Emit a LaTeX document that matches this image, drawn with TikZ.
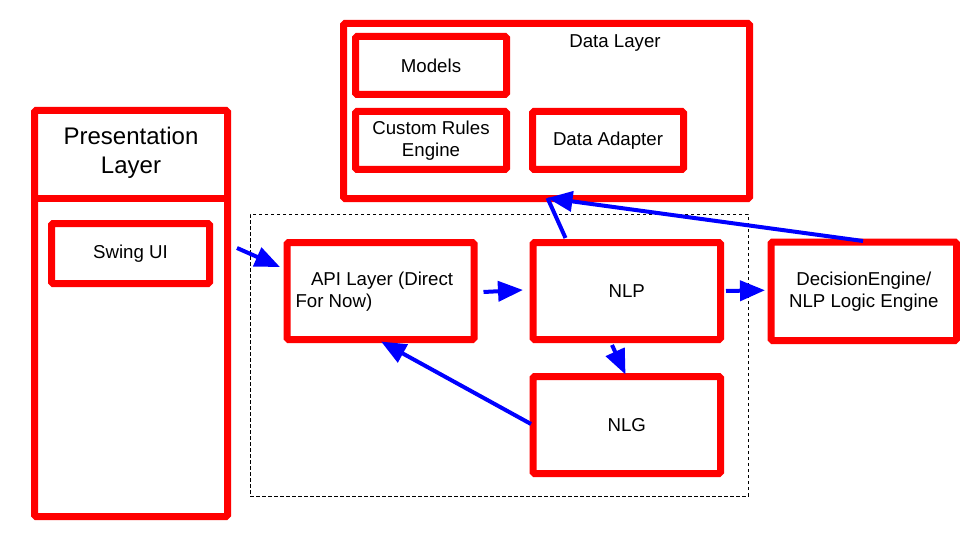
\documentclass[tikz,border=0pt]{standalone}
\usepackage{fontspec}
\setmainfont{Liberation Sans}
\usetikzlibrary{arrows.meta,calc}
\definecolor{rred}{RGB}{255,0,0}
\definecolor{bblue}{RGB}{0,0,255}
\begin{document}
\begin{tikzpicture}[x=1pt,y=-1pt,
 rbox/.style={draw=rred,line width=7pt,rounded corners=1.5pt,outer sep=0pt,inner sep=0pt,align=center,font=\fontsize{18.67}{22}\selectfont},
 txt/.style={inner sep=0pt,outer sep=0pt,align=center,font=\fontsize{18.67}{22}\selectfont},
 bigtxt/.style={inner sep=0pt,outer sep=0pt,align=center,font=\fontsize{24}{29.5}\selectfont},
 conn/.style={draw=bblue,line width=4pt,-{Triangle[length=25pt 0,width=20pt 0]}},
 plainconn/.style={draw=bblue,line width=4pt},
 dashbox/.style={draw=black,line width=0.8pt,dash pattern=on 3.5pt off 2.5pt,outer sep=0pt,inner sep=0pt}]
\useasboundingbox (0,0) rectangle (960,540);
\fill[white] (0,0) rectangle (960,540);

% dashed group
\node[dashbox,minimum width=498pt,minimum height=282pt] (core) at (499,355) {};

% data layer
\node[rbox,minimum width=406pt,minimum height=175pt] (data) at (546.5,111) {};
\node[txt] (datatitle) at (615,43) {Data Layer};
\node[rbox,minimum width=151pt,minimum height=58pt] (models) at (431,65.5) {Models};
\node[rbox,minimum width=151pt,minimum height=58pt] (rules) at (431,140.5) {Custom Rules\\Engine};
\node[rbox,minimum width=151pt,minimum height=58pt] (adapter) at (608,140.5) {Data Adapter};

% presentation layer
\node[rbox,minimum width=193pt,minimum height=406pt] (pres) at (131,313.5) {};
\draw[draw=rred,line width=7pt] ($(pres.north west)+(0,87.5)$) -- ($(pres.north east)+(0,87.5)$);
\node[bigtxt] (prestitle) at (131,153) {Presentation\\Layer};
\node[rbox,minimum width=158pt,minimum height=60pt] (swing) at (130.5,253.5) {Swing UI};

% core
\node[rbox,minimum width=187pt,minimum height=97pt] (api) at (380.5,291) {};
\node[txt,anchor=west,align=left] (apitext) at (295.5,292) {\hspace*{15.5pt}API Layer (Direct\\For Now)};
\node[rbox,minimum width=187.5pt,minimum height=97pt] (nlp) at (626.75,291) {NLP};
\node[rbox,minimum width=187.5pt,minimum height=97pt] (nlg) at (626.75,425) {NLG};
\node[rbox,minimum width=185.5pt,minimum height=98.5pt] (dec) at (863.75,291.25) {DecisionEngine/\\NLP Logic Engine};

% connectors
\draw[conn] ($(swing.east)+(27.5,-5.5)$) -- ($(api.west)+(-7,-24)$);
\draw[conn] ($(api.east)+(9.5,1)$) -- ($(nlp.west)+(-10,-1)$);
\draw[conn] ($(nlp.east)+(5.5,0)$) -- ($(dec.west)+(-6,-1)$);
\draw[conn] ($(nlp.south)+(-14.75,5.5)$) -- ($(nlg.north)+(-1.25,-2)$);
\draw[conn] ($(nlg.west)+(-2,-1)$) -- ($(api.south)+(0.5,2)$);
\draw[plainconn] ($(nlp.north)+(-61.25,-4.5)$) -- ($(data.south)+(1,-0.5)$);
\draw[conn] ($(dec.north)+(-0.75,-1)$) -- ($(data.south)+(1,-0.5)$);
\end{tikzpicture}
\end{document}
